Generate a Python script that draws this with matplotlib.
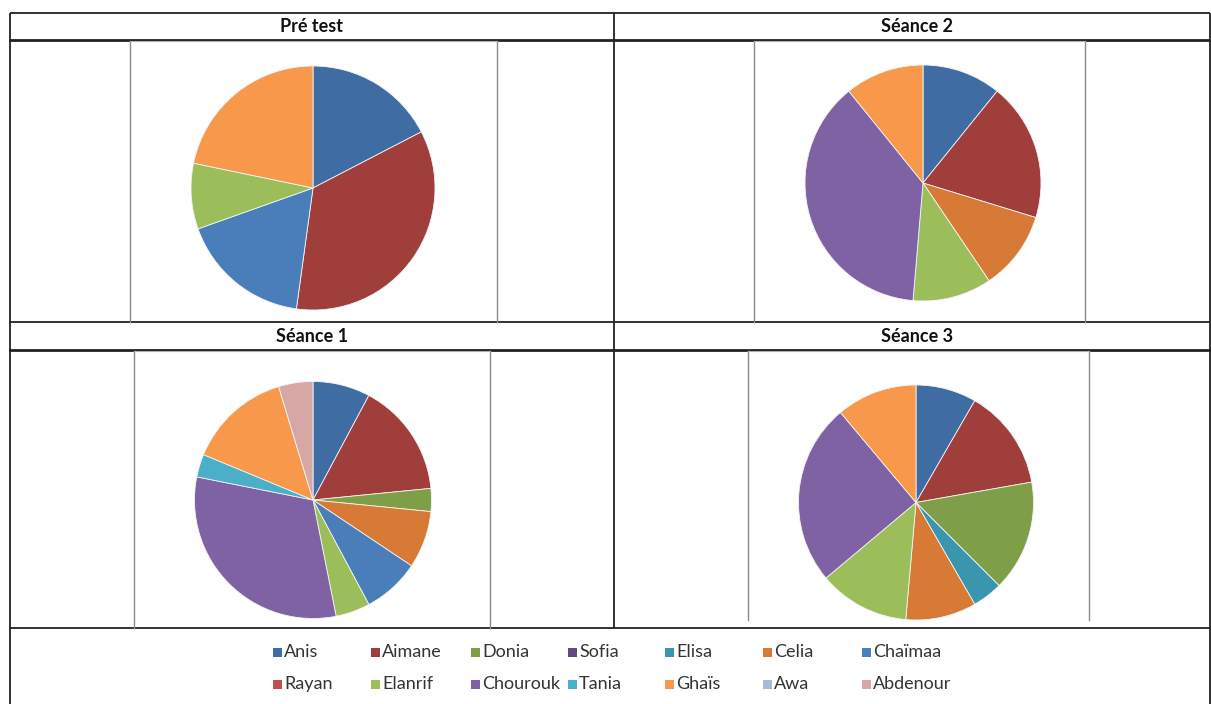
#! /usr/bin/env python3

"""
Four pie charts (pré test and three sessions) laid out in a table,
with a shared legend underneath.
"""

import matplotlib
matplotlib.use("Agg")
import matplotlib.pyplot as plt
from matplotlib.patches import Rectangle

plt.rcParams['font.family'] = ['Lato', 'DejaVu Sans']

# legend order (Excel fills the legend row by row)
names = ["Anis", "Aimane", "Donia", "Sofia", "Elisa", "Celia", "Chaïmaa",
         "Rayan", "Elanrif", "Chourouk", "Tania", "Ghaïs", "Awa", "Abdenour"]
colors = ["#3F6CA3", "#9F3E3B", "#7E9E47", "#5F4B80", "#3A95AE", "#D77A35",
          "#4A7EBB", "#C0504D", "#9CBE5A", "#7F62A3", "#4BAFC9", "#F7984A",
          "#A9BAD9", "#D7A7A6"]

# values per student, in legend order (0 = absent from that chart)
pre_test = [4, 8, 0, 0, 0, 0, 4, 0, 2, 0, 0, 5, 0, 0]
seance_1 = [5, 10, 2, 0, 0, 5, 5, 0, 3, 20, 2, 9, 0, 3]
seance_2 = [4, 7, 0, 0, 0, 4, 0, 0, 4, 14, 0, 4, 0, 0]
seance_3 = [6, 10, 11, 0, 3, 7, 0, 0, 9, 18, 0, 8, 0, 0]

titles = ["Pré test", "Séance 2", "Séance 1", "Séance 3"]
series = [pre_test, seance_2, seance_1, seance_3]

W, H = 1211, 704
fig = plt.figure(figsize=(W / 100, H / 100), dpi=100)

# background axes in pixel coordinates for the table frame
bg = fig.add_axes([0, 0, 1, 1])
bg.set_xlim(0, W)
bg.set_ylim(H, 0)
bg.axis('off')

line_kw = dict(color="#222222", lw=1.3, solid_capstyle='butt')
left, right, mid = 10, 1210, 614
for y in (13, 322, 628):
    bg.plot([left, right], [y, y], **line_kw)
for y in (40, 350):
    bg.plot([left, right], [y, y], color="#222222", lw=2.0)
bg.plot([left, left], [13, H], **line_kw)
bg.plot([right, right], [13, H], **line_kw)
bg.plot([mid, mid], [13, 628], **line_kw)

# grey chart-area boxes (x0, y0, x1, y1)
boxes = [(130, 41, 497, 322), (754, 41, 1085, 322),
         (134, 351, 490, 628), (748, 351, 1089, 620)]
for x0, y0, x1, y1 in boxes:
    bg.plot([x0, x0], [y0, y1], color="#8a8a8a", lw=1.0)
    bg.plot([x1, x1], [y0, y1], color="#8a8a8a", lw=1.0)
    bg.plot([x0, x1], [y0, y0], color="#b0b0b0", lw=0.8)

title_pos = [(312, 26), (917, 26), (312, 337), (917, 337)]
for t, (tx, ty) in zip(titles, title_pos):
    bg.text(tx, ty, t, ha='center', va='center', fontsize=13,
            fontweight='bold', color="#111111")

# pies: centre and radius in pixels
pie_geom = [(313, 188, 122), (923, 183, 118), (313, 500, 118.5), (916, 502.5, 117.5)]
for vals, (cx, cy, r) in zip(series, pie_geom):
    ax = fig.add_axes([(cx - r) / W, 1 - (cy + r) / H, 2 * r / W, 2 * r / H])
    used = [(v, c) for v, c in zip(vals, colors) if v > 0]
    ax.pie([v for v, c in used], colors=[c for v, c in used],
           startangle=90, counterclock=False, radius=1,
           wedgeprops=dict(edgecolor="#f4f4f4", linewidth=0.6))
    ax.set_aspect('auto')
    ax.set_xlim(-1, 1)
    ax.set_ylim(-1, 1)

# legend, two rows of seven
col_x = [273, 371, 471, 568, 665, 763, 862]
row_base = [657, 689]
for i, (name, c) in enumerate(zip(names, colors)):
    row, col = divmod(i, 7)
    x, y = col_x[col], row_base[row]
    bg.add_patch(Rectangle((x, y - 9), 9, 9, facecolor=c, edgecolor='none'))
    bg.text(x + 11, y, name, ha='left', va='baseline', fontsize=13,
            color="#333333")

fig.savefig("out.png", dpi=100)
